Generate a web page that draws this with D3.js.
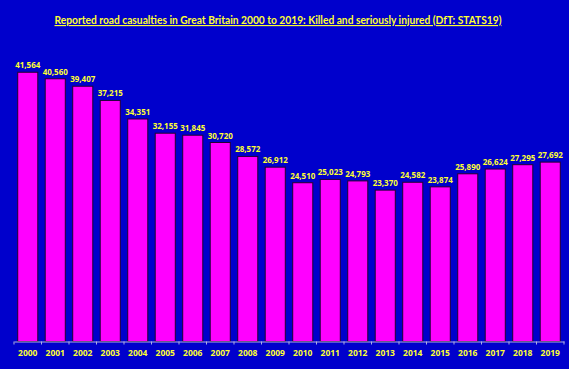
<!DOCTYPE html>
<html><head><meta charset="utf-8">
<script src="https://cdn.jsdelivr.net/npm/d3@7"></script>
<style>html,body{margin:0;padding:0;background:#0000CC;}</style>
</head><body>
<svg id="c" width="569" height="369"></svg>
<script>
const years = ["2000","2001","2002","2003","2004","2005","2006","2007","2008","2009","2010","2011","2012","2013","2014","2015","2016","2017","2018","2019"];
const values = [41564,40560,39407,37215,34351,32155,31845,30720,28572,26912,24510,25023,24793,23370,24582,23874,25890,26624,27295,27692];
const title = "Reported road casualties in Great Britain 2000 to 2019: Killed and seriously injured (DfT: STATS19)";

const svg = d3.select("#c");
svg.append("rect").attr("width",569).attr("height",369).attr("fill","#0000CC");
const m = {l:14, r:5, t:50, b:27.5};
const W = 569, H = 369;
const x = d3.scaleBand().domain(years).range([m.l, W-m.r]).paddingInner(0.27).paddingOuter(0.135);
const y = d3.scaleLinear().domain([0,45000]).range([H-m.b, m.t]);

svg.selectAll("rect.bar").data(values).join("rect").attr("class","bar")
  .attr("x",(d,i)=>x(years[i])).attr("width",x.bandwidth())
  .attr("y",d=>y(d)).attr("height",d=>y(0)-y(d))
  .attr("fill","#FF00FF").attr("stroke","#220033").attr("stroke-width",1);

svg.selectAll("text.val").data(values).join("text").attr("class","val")
  .attr("x",(d,i)=>x(years[i])+x.bandwidth()/2).attr("y",d=>y(d)-4)
  .attr("text-anchor","middle").attr("fill","#FFFF33")
  .style("font-family","'Open Sans', sans-serif").style("font-weight","bold").style("font-size","8px")
  .text(d=>d3.format(",")(d));

const ax = svg.append("g").attr("transform",`translate(0,${y(0)})`)
  .call(d3.axisBottom(x).tickSize(3).tickPadding(5).tickSizeOuter(0));
ax.select(".domain").attr("stroke","#B0B0E0").attr("stroke-width",1.2);
ax.selectAll(".tick line").remove();
const bounds = years.map(yv=>x(yv)-x.step()*x.paddingInner()/2);
bounds.push(W-m.r);
bounds[0]=m.l;
ax.selectAll("line.b").data(bounds).join("line").attr("class","b")
  .attr("x1",d=>d).attr("x2",d=>d).attr("y1",0).attr("y2",3).attr("stroke","#B0B0E0");
ax.selectAll(".tick text").attr("fill","#FFFF33")
  .style("font-family","'Open Sans', sans-serif").style("font-weight","bold").style("font-size","8.5px");

svg.append("text").attr("x",278).attr("y",24).attr("text-anchor","middle")
  .attr("fill","#FFFF33").style("font-family","Lato, sans-serif").style("font-weight","bold")
  .style("font-size","11.5px").style("text-decoration","underline")
  .attr("textLength",447).attr("lengthAdjust","spacingAndGlyphs").text(title);
</script>
</body></html>
